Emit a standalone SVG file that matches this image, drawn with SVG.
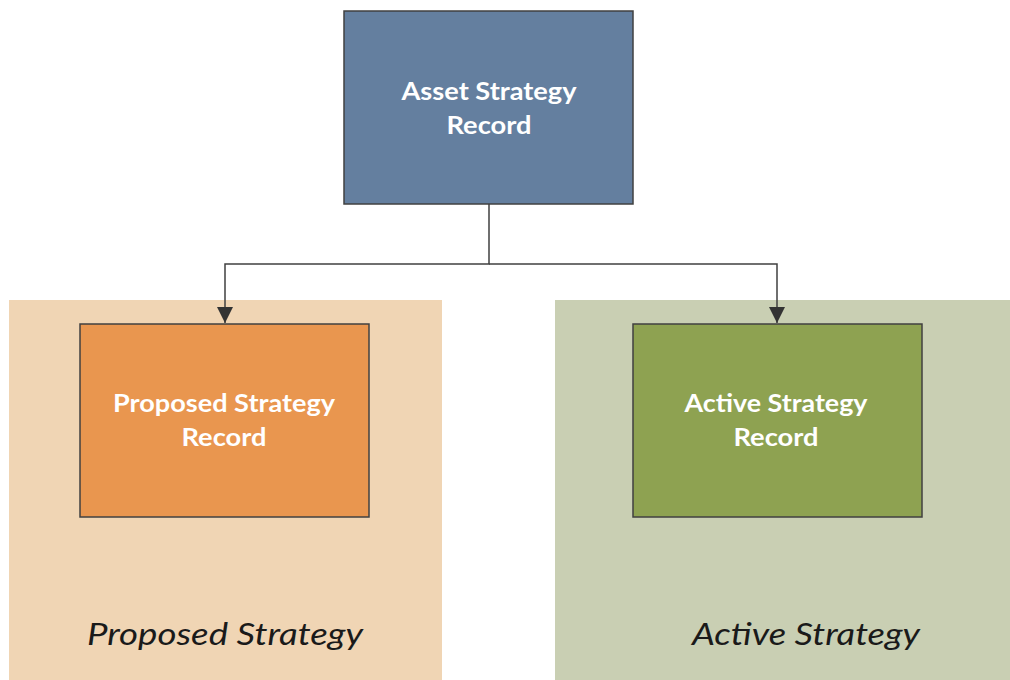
<svg xmlns="http://www.w3.org/2000/svg" width="1010" height="680" viewBox="0 0 1010 680">
<style>
.box{stroke:#404040;stroke-width:1.5}
.lbl{font-family:Lato,"Open Sans","Liberation Sans",sans-serif;font-weight:bold;font-size:24px;fill:#ffffff;text-anchor:middle}
.cap{font-family:Lato,"Open Sans","Liberation Sans",sans-serif;font-style:italic;font-size:31px;fill:#1a1a1a;text-anchor:middle}
.conn{fill:none;stroke:#404040;stroke-width:1.5}
</style>
<defs>
<marker id="arr" markerWidth="18" markerHeight="16" refX="16" refY="8" orient="auto" markerUnits="userSpaceOnUse">
<path d="M0,0 L16,8 L0,16 Z" fill="#333333"/>
</marker>
</defs>
<rect width="1010" height="680" fill="#ffffff"/>
<g id="panel-proposed">
<rect x="9" y="300" width="433" height="380" fill="#F0D5B4"/>
<text class="cap" x="225" y="645" textLength="276" lengthAdjust="spacingAndGlyphs">Proposed Strategy</text>
</g>
<g id="panel-active">
<rect x="555" y="300" width="455" height="380" fill="#C9CFB3"/>
<text class="cap" x="806" y="645" textLength="228" lengthAdjust="spacingAndGlyphs">Active Strategy</text>
</g>
<g id="connectors">
<path class="conn" d="M489,204 V264 H225 V323" marker-end="url(#arr)"/>
<path class="conn" d="M489,264 H777 V323" marker-end="url(#arr)"/>
</g>
<g id="asset">
<rect class="box" x="344" y="11" width="289" height="193" fill="#647F9F"/>
<text class="lbl" x="489" y="100" textLength="175" lengthAdjust="spacingAndGlyphs">Asset Strategy</text>
<text class="lbl" x="489" y="134" textLength="85" lengthAdjust="spacingAndGlyphs">Record</text>
</g>
<g id="proposed">
<rect class="box" x="80" y="324" width="289" height="193" fill="#E9964F"/>
<text class="lbl" x="224" y="412" textLength="222" lengthAdjust="spacingAndGlyphs">Proposed Strategy</text>
<text class="lbl" x="224" y="446" textLength="85" lengthAdjust="spacingAndGlyphs">Record</text>
</g>
<g id="active">
<rect class="box" x="633" y="324" width="289" height="193" fill="#8EA251"/>
<text class="lbl" x="776" y="412" textLength="183" lengthAdjust="spacingAndGlyphs">Active Strategy</text>
<text class="lbl" x="776" y="446" textLength="85" lengthAdjust="spacingAndGlyphs">Record</text>
</g>
</svg>
